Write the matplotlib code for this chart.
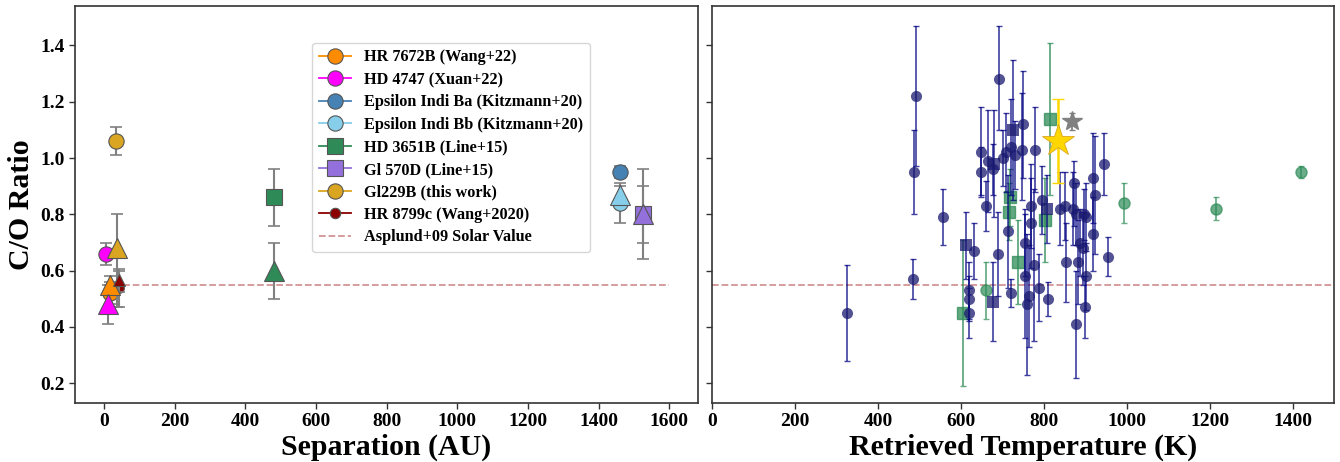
import matplotlib
matplotlib.use("Agg")
import matplotlib.pyplot as plt
from matplotlib.lines import Line2D
import numpy as np

plt.rcParams['font.family'] = ['Liberation Serif', 'DejaVu Serif']
plt.rcParams['font.weight'] = 'bold'
plt.rcParams['axes.labelweight'] = 'bold'

# ---------------- Left panel data ----------------
names = ["HR 7672B (Wang+22)", "HD 4747 (Xuan+22)", "Epsilon Indi Ba (Kitzmann+20)",
         "Epsilon Indi Bb (Kitzmann+20)", "HD 3651B (Line+15)", "Gl 570D (Line+15)",
         "Gl229B (this work)", "HR 8799c (Wang+2020)"]
colors = ["darkorange", "magenta", "steelblue", "skyblue", "seagreen",
          "mediumpurple", "goldenrod", "darkred"]
markers = ["o", "o", "o", "o", "s", "s", "o", "o"]
msizes = [11, 11, 11, 11, 12, 12, 11, 7]
sep_main = [18, 5, 1460, 1460, 480, 1525, 34, 43]
co_main = [0.52, 0.66, 0.95, 0.84, 0.86, 0.80, 1.06, 0.54]
co_main_lo = [0.04, 0.04, 0.02, 0.07, 0.10, 0.16, 0.05, 0.07]
co_main_hi = [0.04, 0.04, 0.02, 0.07, 0.10, 0.16, 0.05, 0.06]
# second estimate (triangles); None = no value
sep_tri = [16, 10, None, 1460, 480, 1525, 36, 43]
co_tri = [0.55, 0.48, None, 0.87, 0.60, 0.80, 0.68, 0.566]
co_tri_lo = [0.03, 0.07, None, 0.03, 0.10, 0.10, 0.21, 0.04]
co_tri_hi = [0.03, 0.07, None, 0.03, 0.10, 0.10, 0.12, 0.04]
tri_sizes = [14, 14, 14, 14, 14, 14, 14, 8]
solar_co = 0.55

# ---------------- Right panel data ----------------
navy_T = [324, 484, 487, 492, 556, 647, 691, 750, 720, 747, 777, 708, 701, 729, 665,
          945, 647, 676, 659, 917, 872, 922, 768, 794, 838, 850, 870, 876, 897, 902,
          769, 714, 917, 753, 886, 894, 688, 632, 954, 852, 882, 776, 755, 900, 788,
          618, 719, 763, 619, 809, 759, 898, 618, 876]
navy_co = [0.45, 0.57, 0.95, 1.22, 0.79, 1.02, 1.28, 1.12, 1.04, 1.03, 1.03, 1.02, 1.00, 1.01, 0.99,
           0.98, 0.95, 0.96, 0.83, 0.93, 0.91, 0.87, 0.83, 0.85, 0.82, 0.83, 0.82, 0.80, 0.80, 0.79,
           0.77, 0.74, 0.73, 0.70, 0.70, 0.68, 0.66, 0.67, 0.65, 0.63, 0.63, 0.62, 0.58, 0.58, 0.54,
           0.53, 0.52, 0.51, 0.50, 0.50, 0.48, 0.47, 0.45, 0.41]
navy_lo = [0.17, 0.07, 0.15, 0.25, 0.10, 0.15, 0.18, 0.19, 0.17, 0.18, 0.15, 0.14, 0.10, 0.12, 0.18,
           0.11, 0.09, 0.09, 0.09, 0.16, 0.15, 0.21, 0.15, 0.12, 0.13, 0.12, 0.13, 0.11, 0.09, 0.12,
           0.16, 0.20, 0.13, 0.12, 0.12, 0.13, 0.15, 0.10, 0.07, 0.14, 0.15, 0.27, 0.22, 0.12, 0.12,
           0.10, 0.05, 0.18, 0.08, 0.06, 0.25, 0.11, 0.09, 0.19]
navy_hi = [0.17, 0.07, 0.15, 0.25, 0.10, 0.16, 0.19, 0.19, 0.17, 0.20, 0.15, 0.14, 0.10, 0.12, 0.18,
           0.11, 0.09, 0.09, 0.09, 0.16, 0.08, 0.21, 0.15, 0.12, 0.13, 0.12, 0.13, 0.11, 0.09, 0.12,
           0.16, 0.20, 0.13, 0.12, 0.12, 0.13, 0.15, 0.10, 0.07, 0.14, 0.15, 0.27, 0.22, 0.12, 0.12,
           0.10, 0.05, 0.18, 0.08, 0.06, 0.25, 0.11, 0.09, 0.19]
navysq_T = [611, 677, 679, 725, 807]
navysq_co = [0.69, 0.49, 0.98, 1.10, 0.82]
navysq_err = [0.12, 0.14, 0.19, 0.25, 0.12]
greensq_T = [815, 718, 715, 803, 737, 605]
greensq_co = [1.14, 0.86, 0.81, 0.78, 0.63, 0.45]
greensq_err = [0.27, 0.10, 0.10, 0.15, 0.15, 0.26]
greenci_T = [660, 992, 1214, 1420]
greenci_co = [0.53, 0.84, 0.82, 0.95]
greenci_err = [0.10, 0.07, 0.04, 0.02]
gl229_T = [834]
gl229_co = [1.06]
gl229_err = [0.15]
grey_T = [868]
grey_co = [1.13]
grey_err = [0.03]

fig = plt.figure(figsize=(13.4, 4.62), dpi=100)
ax1 = fig.add_axes([0.056, 0.1277, 0.4649, 0.8593])
ax2 = fig.add_axes([0.5316, 0.1277, 0.4642, 0.8593], sharey=ax1)

# ---- left panel ----
ax1.plot([0, 1600], [solar_co, solar_co], ls='--', color='brown', alpha=0.5, lw=1.3, zorder=1)
for i in range(len(names)):
    ax1.errorbar(sep_main[i], co_main[i], yerr=[[co_main_lo[i]], [co_main_hi[i]]], fmt='none',
                 ecolor='grey', elinewidth=1.5, capsize=4, capthick=1.2, zorder=2)
    ax1.plot(sep_main[i], co_main[i], marker=markers[i], ms=msizes[i], color=colors[i],
             mec='#555555', mew=0.8, ls='none', zorder=3)
for i in range(len(names)):
    if co_tri[i] is None:
        continue
    ax1.errorbar(sep_tri[i], co_tri[i], yerr=[[co_tri_lo[i]], [co_tri_hi[i]]], fmt='none',
                 ecolor='grey', elinewidth=1.5, capsize=4, capthick=1.2, zorder=4)
    ax1.plot(sep_tri[i], co_tri[i], marker='^', ms=tri_sizes[i], color=colors[i],
             mec='#555555', mew=0.8, ls='none', zorder=5)

handles = [Line2D([0], [0], color=colors[i], marker=markers[i], ms=(11 if i < 7 else 7.5),
                  mec='#555555', mew=0.8, lw=1.3) for i in range(len(names))]
handles.append(Line2D([0], [0], color='brown', alpha=0.5, ls='--', lw=1.3))
leg = ax1.legend(handles, names + ["Asplund+09 Solar Value"], loc='upper left',
                 bbox_to_anchor=(0.381, 0.907), borderaxespad=0,
                 prop={'weight': 'bold', 'size': 11.7}, labelspacing=0.4)

ax1.set_xlim(-82, 1681)
ax1.set_ylim(0.13, 1.54)
ax1.set_xticks([0, 200, 400, 600, 800, 1000, 1200, 1400, 1600])
ax1.set_yticks([0.2, 0.4, 0.6, 0.8, 1.0, 1.2, 1.4])
ax1.set_xlabel("Separation (AU)", fontsize=21.5, fontweight='bold', labelpad=2)
ax1.set_ylabel("C/O Ratio", fontsize=21.5, fontweight='bold', labelpad=4)

# ---- right panel ----
ax2.axhline(solar_co, ls='--', color='brown', alpha=0.5, lw=1.3, zorder=1)
ax2.errorbar(greensq_T, greensq_co, yerr=greensq_err, fmt='s', ms=8, color='seagreen',
             alpha=0.75, elinewidth=1.3, capsize=2, zorder=2)
ax2.errorbar(greenci_T, greenci_co, yerr=greenci_err, fmt='o', ms=8, color='seagreen',
             alpha=0.7, elinewidth=1.3, capsize=2, zorder=2)
ax2.errorbar(navy_T, navy_co, yerr=[navy_lo, navy_hi], fmt='none', ecolor='navy',
             alpha=0.75, elinewidth=1.2, capsize=2, zorder=3)
ax2.plot(navy_T, navy_co, 'o', ms=8, color='midnightblue', alpha=0.75, mew=0, zorder=4)
ax2.errorbar(navysq_T, navysq_co, yerr=navysq_err, fmt='none', ecolor='navy',
             alpha=0.75, elinewidth=1.2, capsize=2, zorder=3)
ax2.plot(navysq_T, navysq_co, 's', ms=8, color='midnightblue', alpha=0.75, mew=0, zorder=4)
ax2.errorbar(grey_T, grey_co, yerr=grey_err, fmt='*', ms=15, color='grey',
             elinewidth=1.3, capsize=2, zorder=5)
ax2.errorbar(gl229_T, gl229_co, yerr=gl229_err, fmt='none', ecolor='gold',
             elinewidth=1.8, capsize=4, zorder=5)
ax2.plot(gl229_T, gl229_co, '*', ms=24, color='gold', mec='goldenrod', mew=0.6, zorder=6)

ax2.set_xlim(0, 1500)
ax2.set_xticks([0, 200, 400, 600, 800, 1000, 1200, 1400])
ax2.set_xlabel("Retrieved Temperature (K)", fontsize=21.5, fontweight='bold', labelpad=2)
plt.setp(ax2.get_yticklabels(), visible=False)

for ax in (ax1, ax2):
    for s in ax.spines.values():
        s.set_color('#333333')
        s.set_linewidth(1.2)
    ax.tick_params(labelsize=14, length=4, width=1, color='#333333')
    for lab in ax.get_xticklabels() + ax.get_yticklabels():
        lab.set_fontweight('bold')

fig.savefig("out.png", dpi=100)
